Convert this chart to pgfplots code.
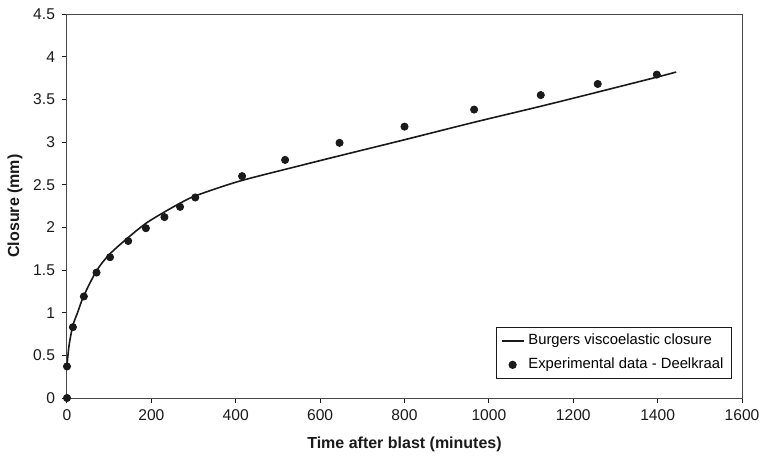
\documentclass[border=0pt]{standalone}
\usepackage{fontspec}
\setmainfont{Liberation Sans}
\usepackage{pgfplots}
\pgfplotsset{compat=1.18}
\definecolor{Ink}{HTML}{1A1A1A}
\pgfplotsset{
 shortline/.style={legend image code/.code={\draw[##1] (0pt,0pt) -- (11pt,0pt);}},
 onedot/.style={legend image code/.code={\draw[##1] plot coordinates {(5.5pt,0pt)};}}
}

\begin{document}
\begin{tikzpicture}
\begin{axis}[scale only axis,width=337.5pt,height=192pt,
 xmin=0,xmax=1600,ymin=0,ymax=4.5,
 xtick={0,200,...,1600},ytick={0,0.5,...,4.5},
 /pgf/number format/assume math mode=true,
 /pgf/number format/1000 sep={},
 yticklabel style={/pgf/number format/fixed,/pgf/number format/precision=1},
 tick label style={font=\fontsize{7.8}{9}\selectfont,text=Ink},
 xtick pos=left,ytick pos=left,tick align=outside,major tick length=2.5pt,
 tick style={draw=Ink,line width=0.5pt},
 axis line style={draw=Ink!80,line width=0.5pt},
 xlabel={\textbf{Time after blast (minutes)}},
 ylabel={\textbf{Closure (mm)}},
 label style={font=\fontsize{8}{9}\selectfont,text=Ink},
 xlabel style={at={(axis description cs:0.5,-0.12)},anchor=center},
 ylabel style={at={(axis description cs:-0.077,0.5)},anchor=center},
 legend style={at={(axis description cs:0.985,0.049)},anchor=south east,
   draw=Ink,line width=0.5pt,font=\fontsize{7.4}{9}\selectfont,
   inner xsep=2pt,inner ysep=1.5pt,row sep=1pt},
 legend cell align=left]
% Burgers viscoelastic closure (model curve, traced)
\addplot[draw=Ink,line width=0.8pt,smooth,no marks,shortline] coordinates {
 (0,0.38) (5,0.62) (14,0.85) (25,1.00) (40,1.20) (70,1.49) (100,1.68)
 (145,1.88) (188,2.05) (231,2.18) (267,2.28) (305,2.37) (408,2.54)
 (550,2.72) (647,2.84) (803,3.03) (964,3.23) (1124,3.42) (1262,3.59)
 (1398,3.76) (1444,3.82)};
% Experimental data - Deelkraal
\addplot[only marks,mark=*,mark size=1.8pt,draw=Ink,fill=Ink,onedot] coordinates {
 (0,0) (0,0.37) (14,0.83) (40,1.19) (70,1.47) (102,1.65) (145,1.84)
 (187,1.99) (231,2.12) (268,2.24) (304,2.35) (415,2.60) (517,2.79)
 (646,2.99) (800,3.18) (965,3.38) (1123,3.55) (1258,3.68) (1398,3.79)};
\legend{Burgers viscoelastic closure,Experimental data - Deelkraal}
\end{axis}
\pgfresetboundingbox
\path (-33.5pt,-32pt) rectangle (349pt,199pt);
\end{tikzpicture}
\end{document}
